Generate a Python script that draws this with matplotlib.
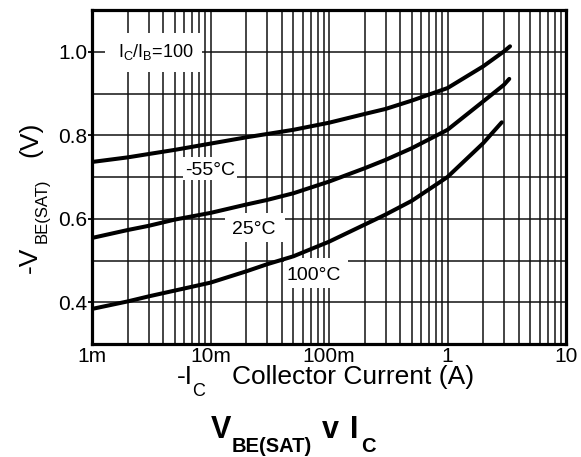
import matplotlib
matplotlib.use("Agg")
import matplotlib.pyplot as plt
from matplotlib.patches import Rectangle
from matplotlib.ticker import FixedLocator, NullFormatter, LogLocator
import numpy as np

plt.rcParams['font.family'] = ['Liberation Sans', 'DejaVu Sans']
plt.rcParams['mathtext.fontset'] = 'custom'
plt.rcParams['mathtext.rm'] = 'Liberation Sans'

# ---- data ----
ic_m55 = [0.001, 0.002, 0.003, 0.005, 0.01, 0.02, 0.03, 0.05, 0.1, 0.2, 0.3, 0.5, 1.0, 2.0, 3.0, 3.37]
vbe_m55 = [0.736, 0.747, 0.755, 0.765, 0.780, 0.795, 0.803, 0.813, 0.830, 0.851, 0.863, 0.883, 0.913, 0.965, 1.001, 1.013]

ic_25 = [0.001, 0.002, 0.003, 0.005, 0.01, 0.02, 0.03, 0.05, 0.1, 0.2, 0.3, 0.5, 1.0, 2.0, 3.0, 3.32]
vbe_25 = [0.554, 0.573, 0.583, 0.598, 0.614, 0.634, 0.645, 0.661, 0.689, 0.721, 0.741, 0.769, 0.813, 0.881, 0.921, 0.935]

ic_100 = [0.001, 0.002, 0.003, 0.005, 0.01, 0.02, 0.03, 0.05, 0.1, 0.2, 0.3, 0.5, 1.0, 2.0, 2.87]
vbe_100 = [0.384, 0.402, 0.414, 0.428, 0.447, 0.474, 0.491, 0.510, 0.545, 0.586, 0.610, 0.643, 0.700, 0.781, 0.831]

x_ticks = [0.001, 0.01, 0.1, 1, 10]
x_ticklabels = ['1m', '10m', '100m', '1', '10']
y_ticks = [0.4, 0.6, 0.8, 1.0]
y_ticklabels = ['0.4', '0.6', '0.8', '1.0']

W, H = 581, 457
fig = plt.figure(figsize=(W / 100, H / 100), dpi=100)
ax = fig.add_axes([92 / W, 1 - 344 / H, (566 - 92) / W, (344 - 10) / H])

def P(x, y):
    return (x / W, 1 - y / H)

ax.set_xscale('log')
ax.set_xlim(1e-3, 10)
ax.set_ylim(0.3, 1.1)

ax.set_xticks(x_ticks)
ax.set_xticklabels(x_ticklabels)
ax.xaxis.set_minor_locator(LogLocator(base=10, subs=np.arange(2, 10)))
ax.xaxis.set_minor_formatter(NullFormatter())
ax.set_yticks(y_ticks)
ax.set_yticklabels(y_ticklabels)
ax.yaxis.set_minor_locator(FixedLocator([0.3, 0.5, 0.7, 0.9, 1.1]))

ax.tick_params(axis='x', which='both', length=0, pad=2, labelsize=15)
ax.tick_params(axis='y', which='major', length=3, width=1.3, direction='out', pad=0.5, labelsize=15)
ax.tick_params(axis='y', which='minor', length=0)

ax.set_axisbelow(True)
ax.grid(True, which='both', color='#111111', linewidth=1.1)
for s in ax.spines.values():
    s.set_linewidth(2.3)
    s.set_zorder(5)

# white label boxes
boxes = [(105, 33, 202, 72), (183, 157, 237, 180), (225, 213, 285, 242), (284, 258, 348, 288)]
for x0, y0, x1, y1 in boxes:
    r = Rectangle(P(x0, y1), (x1 - x0) / W, (y1 - y0) / H, transform=fig.transFigure,
                  facecolor='white', edgecolor='none', zorder=1.5)
    ax.add_patch(r)

for xs, ys in [(ic_m55, vbe_m55), (ic_25, vbe_25), (ic_100, vbe_100)]:
    ax.plot(xs, ys, color='black', linewidth=2.9, solid_capstyle='round',
            solid_joinstyle='round', zorder=3)

# curve labels
fig.text(*P(185, 175), '-55°C', fontsize=14, ha='left', va='baseline', zorder=6)
fig.text(*P(232, 234), '25°C', fontsize=14, ha='left', va='baseline', zorder=6)
fig.text(*P(287, 280), '100°C', fontsize=14, ha='left', va='baseline', zorder=6)
fig.text(*P(118, 57), r'$\mathregular{I_C/I_B}$=100', fontsize=13, ha='left', va='baseline', zorder=6)

# x label
fig.text(*P(177, 384), '-I', fontsize=19, ha='left', va='baseline')
fig.text(*P(192, 396), 'C', fontsize=13, ha='left', va='baseline')
fig.text(*P(232, 384), 'Collector Current (A)', fontsize=19, ha='left', va='baseline')

# y label (rotated)
fig.text(*P(37, 273), '-V', fontsize=19, ha='left', va='baseline', rotation=90, rotation_mode='anchor')
fig.text(*P(47, 243), 'BE(SAT)', fontsize=12, ha='left', va='baseline', rotation=90, rotation_mode='anchor')
fig.text(*P(37, 157), '(V)', fontsize=19, ha='left', va='baseline', rotation=90, rotation_mode='anchor')

# title
fig.text(*P(211, 438), 'V', fontsize=22, fontweight='bold', ha='left', va='baseline')
fig.text(*P(232, 452), 'BE(SAT)', fontsize=14.5, fontweight='bold', ha='left', va='baseline')
fig.text(*P(322, 438), 'v', fontsize=22, fontweight='bold', ha='left', va='baseline')
fig.text(*P(350, 438), 'I', fontsize=22, fontweight='bold', ha='left', va='baseline')
fig.text(*P(361, 452), 'C', fontsize=14.5, fontweight='bold', ha='left', va='baseline')

fig.savefig('out.png', dpi=100, facecolor='white')
